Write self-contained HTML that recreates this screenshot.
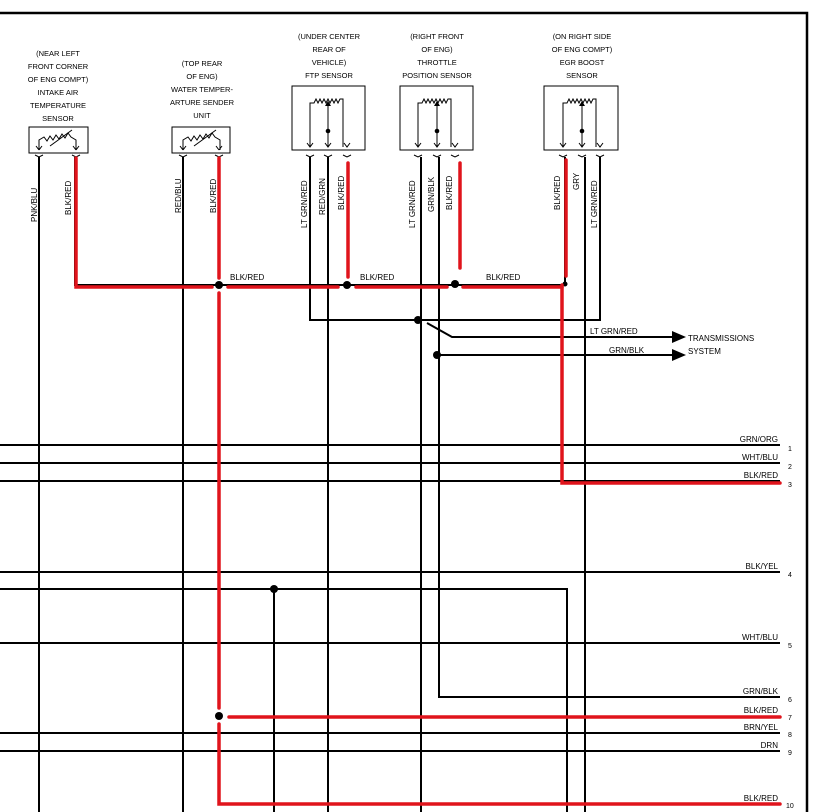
<!DOCTYPE html>
<html><head><meta charset="utf-8"><style>
html,body{margin:0;padding:0;background:#fff;}
svg{display:block;}
text{font-family:"Liberation Sans",sans-serif;fill:#000;}
.t{font-size:7.5px;text-anchor:middle;}
.w{font-size:8px;}
</style></head><body>
<svg width="814" height="812" viewBox="0 0 814 812" xmlns="http://www.w3.org/2000/svg">
<!-- border -->
<path d="M0 13 H807 V812" fill="none" stroke="#000" stroke-width="2.5"/>

<!-- sensor titles -->
<g class="t">
<text x="58" y="56">(NEAR LEFT</text><text x="58" y="69">FRONT CORNER</text><text x="58" y="82">OF ENG COMPT)</text><text x="58" y="95">INTAKE AIR</text><text x="58" y="108">TEMPERATURE</text><text x="58" y="121">SENSOR</text>
<text x="202" y="66">(TOP REAR</text><text x="202" y="79">OF ENG)</text><text x="202" y="92">WATER TEMPER-</text><text x="202" y="105">ARTURE SENDER</text><text x="202" y="118">UNIT</text>
<text x="329" y="39">(UNDER CENTER</text><text x="329" y="52">REAR OF</text><text x="329" y="65">VEHICLE)</text><text x="329" y="78">FTP SENSOR</text>
<text x="437" y="39">(RIGHT FRONT</text><text x="437" y="52">OF ENG)</text><text x="437" y="65">THROTTLE</text><text x="437" y="78">POSITION SENSOR</text>
<text x="582" y="39">(ON RIGHT SIDE</text><text x="582" y="52">OF ENG COMPT)</text><text x="582" y="65">EGR BOOST</text><text x="582" y="78">SENSOR</text>
</g>

<!-- 2-pin boxes -->
<g fill="none" stroke="#000" stroke-width="1">
<rect x="29" y="127" width="59" height="26"/>
<rect x="172" y="127" width="58" height="26"/>
<path d="M39 150 V140 l5-3 3 4 3-5 3 4 3-5 3 4 3-5 3 4 3-5 3 4 5 3 V150 M39 150 l-3-4 M39 150 l3-4 M76 150 l-3-4 M76 150 l3-4"/>
<path d="M50 146 L72 130"/>
<path d="M183 150 V140 l5-3 3 4 3-5 3 4 3-5 3 4 3-5 3 4 3-5 3 4 5 3 V150 M183 150 l-3-4 M183 150 l3-4 M219 150 l-3-4 M219 150 l3-4"/>
<path d="M194 146 L216 130"/>
<rect x="292" y="86" width="73" height="64"/>
<rect x="400" y="86" width="73" height="64"/>
<rect x="544" y="86" width="74" height="64"/>
</g>
<g fill="none" stroke="#000" stroke-width="1">
<path d="M310 147 V103 h4 l2-4 2 4 2-4 2 4 2-4 2 4 2-4 2 4 2-4 2 4 2-4 2 4 2-4 h3 V147"/>
<path d="M328 106 V147"/>
<path d="M418 147 V103 h4 l2-4 2 4 2-4 2 4 2-4 2 4 2-4 2 4 2-4 2 4 2-4 2 4 2-4 h3 V147"/>
<path d="M437 106 V147"/>
<path d="M563 147 V103 h4 l2-4 2 4 2-4 2 4 2-4 2 4 2-4 2 4 2-4 2 4 2-4 2 4 2-4 h3 V147"/>
<path d="M582 106 V147"/>
<path d="M307 143 l3 4 3-4 M325 143 l3 4 3-4 M344 143 l3 4 3-4 M415 143 l3 4 3-4 M434 143 l3 4 3-4 M452 143 l3 4 3-4 M560 143 l3 4 3-4 M579 143 l3 4 3-4 M597 143 l3 4 3-4"/>
<path d="M306 155 l4 2 4-2 M324 155 l4 2 4-2 M343 155 l4 2 4-2 M414 155 l4 2 4-2 M433 155 l4 2 4-2 M451 155 l4 2 4-2 M559 155 l4 2 4-2 M578 155 l4 2 4-2 M596 155 l4 2 4-2 M35 155 l4 2 4-2 M72 155 l4 2 4-2 M179 155 l4 2 4-2 M215 155 l4 2 4-2"/>
</g>
<g fill="#000">
<polygon points="325,106 331,106 328,101"/><circle cx="328" cy="131" r="2.3"/>
<polygon points="434,106 440,106 437,101"/><circle cx="437" cy="131" r="2.3"/>
<polygon points="579,106 585,106 582,101"/><circle cx="582" cy="131" r="2.3"/>
</g>

<!-- black wires -->
<g fill="none" stroke="#000" stroke-width="2">
<path d="M39 157 V812"/>
<path d="M183 157 V812"/>
<path d="M310 157 V320 H600 V157"/>
<path d="M328 157 V812"/>
<path d="M421 157 V812"/>
<path d="M439 157 V697 H780"/>
<path d="M585 157 V812"/>
<path d="M75 157 V285 H565 V157"/>
<path d="M0 445 H780 M0 463 H780 M0 481 H780 M0 572 H780 M0 643 H780 M0 733 H780 M0 751 H780"/>
<path d="M0 589 H567 V812"/>
<path d="M274 589 V812"/>
<path d="M427 323 L452 337 H676"/>
<path d="M439 355 H676"/>
</g>
<polygon points="672,331 686,337 672,343" fill="#000"/>
<polygon points="672,349 686,355 672,361" fill="#000"/>
<g fill="#000">
<circle cx="219" cy="285" r="4"/><circle cx="347" cy="285" r="4"/><circle cx="455" cy="284" r="4"/><circle cx="565" cy="284" r="2.5"/>
<circle cx="418" cy="320" r="4"/><circle cx="437" cy="355" r="4"/><circle cx="274" cy="589" r="4"/><circle cx="219" cy="716" r="4"/>
</g>

<!-- red wires -->
<g fill="none" stroke="#e0141c" stroke-width="3.5" stroke-linecap="round">
<path d="M76 158 V287 H212"/>
<path d="M228 287 H338"/>
<path d="M356 287 H447"/>
<path d="M463 287 H562"/>
<path d="M219 158 V278"/>
<path d="M348 163 V277"/>
<path d="M460 163 V268"/>
<path d="M566 160 V276"/>
<path d="M219 293 V708"/>
<path d="M562 285 V483 H780"/>
<path d="M229 717 H780"/>
<path d="M219 724 V804 H780"/>
</g>

<!-- vertical wire labels -->
<g class="w">
<text transform="translate(37,222) rotate(-90)">PNK/BLU</text>
<text transform="translate(71,215) rotate(-90)">BLK/RED</text>
<text transform="translate(181,213) rotate(-90)">RED/BLU</text>
<text transform="translate(216,213) rotate(-90)">BLK/RED</text>
<text transform="translate(307,228) rotate(-90)">LT GRN/RED</text>
<text transform="translate(325,215) rotate(-90)">RED/GRN</text>
<text transform="translate(344,210) rotate(-90)">BLK/RED</text>
<text transform="translate(415,228) rotate(-90)">LT GRN/RED</text>
<text transform="translate(434,212) rotate(-90)">GRN/BLK</text>
<text transform="translate(452,210) rotate(-90)">BLK/RED</text>
<text transform="translate(560,210) rotate(-90)">BLK/RED</text>
<text transform="translate(579,190) rotate(-90)">GRY</text>
<text transform="translate(597,228) rotate(-90)">LT GRN/RED</text>
</g>
<g class="w">
<text x="230" y="280">BLK/RED</text><text x="360" y="280">BLK/RED</text><text x="486" y="280">BLK/RED</text>
<text x="590" y="334">LT GRN/RED</text><text x="609" y="353">GRN/BLK</text>
<text x="688" y="341">TRANSMISSIONS</text><text x="688" y="354">SYSTEM</text>
</g>
<g class="w" text-anchor="end">
<text x="778" y="442">GRN/ORG</text><text x="778" y="460">WHT/BLU</text><text x="778" y="478">BLK/RED</text>
<text x="778" y="569">BLK/YEL</text><text x="778" y="640">WHT/BLU</text><text x="778" y="694">GRN/BLK</text>
<text x="778" y="713">BLK/RED</text><text x="778" y="730">BRN/YEL</text><text x="778" y="748">DRN</text>
<text x="778" y="801">BLK/RED</text>
</g>
<g style="font-size:7px">
<text x="788" y="451">1</text><text x="788" y="469">2</text><text x="788" y="487">3</text><text x="788" y="577">4</text><text x="788" y="648">5</text><text x="788" y="702">6</text><text x="788" y="720">7</text><text x="788" y="737">8</text><text x="788" y="755">9</text><text x="786" y="808">10</text>
</g>
</svg>
</body></html>
